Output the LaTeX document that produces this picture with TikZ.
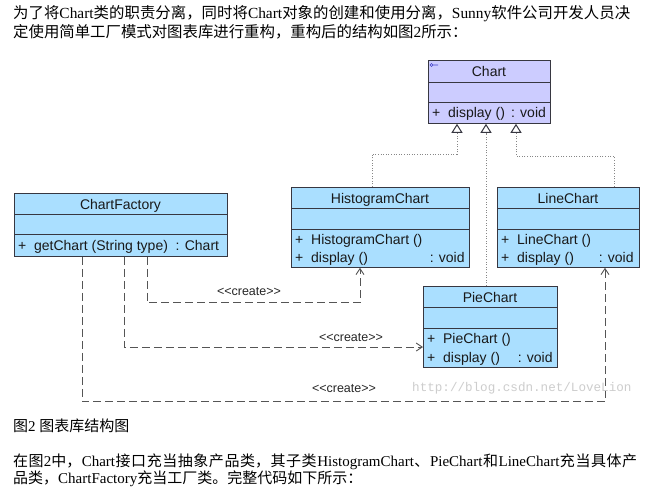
\documentclass[tikz,border=0pt]{standalone}
\usepackage{fontspec}
\setmainfont{Liberation Serif}
\newfontfamily\cjk{Noto Sans CJK SC}
\newfontfamily\umlf{Liberation Sans}
\newfontfamily\monof{Liberation Mono}
\usetikzlibrary{arrows.meta,calc}
\definecolor{boxblue}{RGB}{170,223,255}
\definecolor{boxlav}{RGB}{204,204,255}
\definecolor{boxline}{RGB}{55,55,65}
\definecolor{dotgray}{RGB}{135,135,135}
\definecolor{dashgray}{RGB}{85,85,85}
\definecolor{wmgray}{RGB}{205,205,205}
\definecolor{iconblue}{RGB}{60,60,200}
\XeTeXlinebreaklocale "zh"
\XeTeXlinebreakskip=0pt plus 3pt minus 0.5pt
\newcommand\gsk{\hskip 0pt plus 3pt minus 0.5pt\relax}
\newcommand\umlclass[9]{%
  \node[classbox, fill=#8, minimum width=#4pt, minimum height=#5pt, anchor=north west] (#1) at (#2,#3) {};
  \draw[boxline, line width=0.8pt] (#2,#3+#6) -- ++(#4,0);
  \draw[boxline, line width=0.8pt] (#2,#3+#7) -- ++(#4,0);
  \node[uml, anchor=base] (#1-title) at (#2+#4/2,#3+#6/2+5.5) {#9};
}
\begin{document}
\begin{tikzpicture}[x=1pt,y=-1pt,
  classbox/.style={draw=boxline, line width=0.8pt, inner sep=0pt, rectangle},
  uml/.style={font=\umlf\fontsize{14}{16}\selectfont, inner sep=0pt, text=black!90},
  lbl/.style={font=\umlf\fontsize{12.5}{14}\selectfont, inner sep=0pt, text=black!85},
  cn/.style={font=\fontsize{15.4}{18}\selectfont, inner sep=0pt, anchor=base west},
  cnb/.style={font=\fontsize{15}{18}\selectfont, inner sep=0pt, anchor=base west},
  gen/.style={draw=dotgray, line width=1pt, dash pattern=on 1pt off 1.6pt,
    -{Triangle[open,length=9pt,width=11pt,color=boxline]}},
  dep/.style={draw=dashgray, line width=0.9pt, dash pattern=on 8pt off 4pt,
    -{Straight Barb[length=6pt,width=8pt]}},
]
\useasboundingbox[fill=white] (0,0) rectangle (667,493);

% top text
\node[cn] (t1) at (13,18.5) {\parbox[t]{617pt}{\tolerance=10000\parfillskip=0pt\relax
  {\cjk 为了将}\gsk Chart\gsk{\cjk 类的职责分离，同时将}\gsk Chart\gsk{\cjk 对象的创建和使用分离，}\gsk Sunny\gsk{\cjk 软件公司开发人员决}}};
\node[cn] (t2) at (13,37.5) {{\cjk 定使用简单工厂模式对图表库进行重构，重构后的结构如图}2{\cjk 所示：}};

% classes
\umlclass{chart}{428}{60}{122}{63}{22}{42}{boxlav}{Chart}
\umlclass{hist}{291}{187}{178}{80}{21}{42}{boxblue}{HistogramChart}
\umlclass{line}{497}{187}{142}{80}{21}{42}{boxblue}{LineChart}
\umlclass{pie}{423}{286}{134}{81}{21}{42}{boxblue}{PieChart}
\umlclass{factory}{14}{193}{213}{63}{21}{41}{boxblue}{ChartFactory}

% interface icon
\draw[iconblue, line width=0.6pt] (431.5,65) circle (1.5) (433,65) -- (438,65);

% members
\node[uml, anchor=base west] (chart-m1) at ($(chart.north west)+(4,57)$) {+ \ display () \,: void};
\node[uml, anchor=base west] (hist-m1) at ($(hist.north west)+(4,57)$) {+ \ HistogramChart ()};
\node[uml, anchor=base west] (hist-m2) at ($(hist.north west)+(4,75)$) {+ \ display ()};
\node[uml, anchor=base east] (hist-m2t) at ($(hist.north east)+(-5,75)$) {: void};
\node[uml, anchor=base west] (line-m1) at ($(line.north west)+(4,57)$) {+ \ LineChart ()};
\node[uml, anchor=base west] (line-m2) at ($(line.north west)+(4,75)$) {+ \ display ()};
\node[uml, anchor=base east] (line-m2t) at ($(line.north east)+(-6,75)$) {: void};
\node[uml, anchor=base west] (pie-m1) at ($(pie.north west)+(4,57)$) {+ \ PieChart ()};
\node[uml, anchor=base west] (pie-m2) at ($(pie.north west)+(4,76)$) {+ \ display ()};
\node[uml, anchor=base east] (pie-m2t) at ($(pie.north east)+(-5,76)$) {: void};
\node[uml, anchor=base west] (factory-m1) at ($(factory.north west)+(4,57)$) {+ \ getChart (String type) \ : Chart};

% generalizations
\draw[gen] ($(hist.north west)+(81,0)$) -- ++(0,-33) -| ($(chart.south west)+(29,0)$);
\draw[gen] ($(pie.north west)+(63,0)$) -- ($(chart.south west)+(58,0)$);
\draw[gen] ($(line.north west)+(117,0)$) -- ++(0,-31) -| ($(chart.south west)+(88,0)$);

% dependencies
\draw[dep] ($(factory.south west)+(133,0)$) -- ++(0,46) -| ($(hist.south west)+(69,0)$);
\draw[dep] ($(factory.south west)+(110,0)$) |- ($(pie.north west)+(0,61)$);
\draw[dep] ($(factory.south west)+(68,0)$) -- ++(0,145) -| ($(line.south west)+(108,0)$);
\node[lbl] (c1) at (249,292) {<{}<create>{}>};
\node[lbl] (c2) at (351,338) {<{}<create>{}>};
\node[lbl] (c3) at (344,389) {<{}<create>{}>};

% watermark
\node[font=\monof\fontsize{12.6}{14}\selectfont, text=wmgray, inner sep=0pt, anchor=west] (wm) at (412,388) {http://blog.csdn.net/LoveLion};

% bottom text
\node[cnb] (cap) at (13,431) {{\cjk 图}2 {\cjk 图表库结构图}};
\node[cnb] (p1) at (13,466) {\parbox[t]{624pt}{\tolerance=10000\parfillskip=0pt\relax
  {\cjk 在图}2{\cjk 中，}\gsk Chart\gsk{\cjk 接口充当抽象产品类，其子类}\gsk HistogramChart\gsk{\cjk 、}\gsk PieChart\gsk{\cjk 和}\gsk LineChart\gsk{\cjk 充当具体产}}};
\node[cnb] (p2) at (13,483) {{\cjk 品类，}ChartFactory{\cjk 充当工厂类。完整代码如下所示：}};
\end{tikzpicture}
\end{document}
